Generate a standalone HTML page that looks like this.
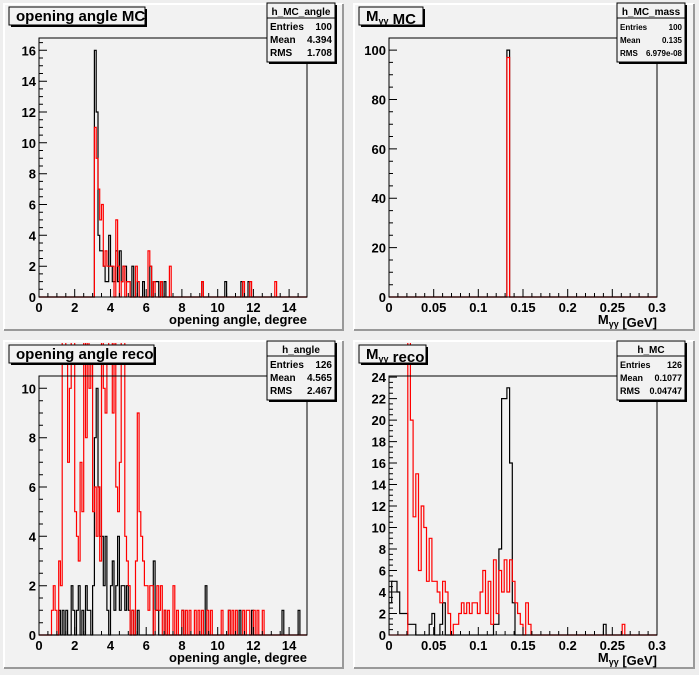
<!DOCTYPE html>
<html><head><meta charset="utf-8">
<style>
body{margin:0;background:#f0f0f0;}
svg{display:block;font-family:"Liberation Sans",sans-serif;}
</style></head>
<body>
<svg id="s" width="699" height="675" xmlns="http://www.w3.org/2000/svg">
<rect x="0" y="0" width="699" height="675" fill="#eeeeee"/>
</svg>
<script>
const S=document.getElementById('s');
let out='';
function pad(px,py,w,h){
 out+=`<rect x="${px}" y="${py}" width="${w}" height="${h}" fill="#f2f2f2"/>`;
 out+=`<path d="M${px} ${py+h}V${py}H${px+w}" stroke="#ffffff" stroke-width="2" fill="none"/>`;
 out+=`<path d="M${px} ${py+h}H${px+w}V${py}" stroke="#999" stroke-width="2" fill="none"/>`;
}
function hist(id,fx0,fy0,fx1,fy1,xmin,xmax,ymax,data,bw,color,clipTop){
 const X=v=>fx0+(v-xmin)/(xmax-xmin)*(fx1-fx0);
 const Y=v=>fy1-v/ymax*(fy1-fy0);
 let m={};data.forEach(([x,c])=>{m[Math.round(x/bw)]=c;});
 let n=Math.round((xmax-xmin)/bw);
 let d=`M${X(xmin)} ${Y(0)}`;
 for(let i=0;i<n;i++){let c=m[i]||0;d+=`V${Y(c).toFixed(1)}H${X((i+1)*bw).toFixed(1)}`;}
 d+=`V${Y(0)}`;
 out+=`<clipPath id="${id}"><rect x="${fx0}" y="${clipTop}" width="${fx1-fx0+1}" height="${fy1-clipTop+1}"/></clipPath>`;
 out+=`<path d="${d}" stroke="${color}" stroke-width="1.2" fill="none" clip-path="url(#${id})"/>`;
}
function axes(fx0,fy0,fx1,fy1,xmin,xmax,xlab,xstep,xminor,ymax,ylab,ystep,yminor,xtitle){
 out+=`<rect x="${fx0}" y="${fy0}" width="${fx1-fx0}" height="${fy1-fy0}" fill="none" stroke="#000" stroke-width="1"/>`;
 const X=v=>fx0+(v-xmin)/(xmax-xmin)*(fx1-fx0);
 const Y=v=>fy1-v/ymax*(fy1-fy0);
 let t='';
 for(let v=xmin;v<=xmax+1e-9;v+=xminor){let big=Math.abs(v/xstep-Math.round(v/xstep))<1e-6;t+=`M${X(v).toFixed(1)} ${fy1}v${big?-8:-4}`;}
 for(let v=0;v<=ymax+1e-9;v+=yminor){let big=Math.abs(v/ystep-Math.round(v/ystep))<1e-6;t+=`M${fx0} ${Y(v).toFixed(1)}h${big?8:4}`;}
 out+=`<path d="${t}" stroke="#000" stroke-width="1" fill="none"/>`;
 xlab.forEach(([v,s])=>{out+=`<text x="${X(v)}" y="${fy1+15}" font-size="13" font-weight="bold" text-anchor="middle">${s}</text>`;});
 ylab.forEach(([v,s])=>{out+=`<text x="${fx0-3}" y="${Y(v)+5}" font-size="13" font-weight="bold" text-anchor="end">${s}</text>`;});
 out+=`<text x="${fx1}" y="${fy1+27}" font-size="13" font-weight="bold" text-anchor="end">${xtitle}</text>`;
}
function title(x,y,w,h,txt){
 out+=`<rect x="${x+2}" y="${y+2}" width="${w}" height="${h}" fill="#000"/><rect x="${x}" y="${y}" width="${w}" height="${h}" fill="#f2f2f2" stroke="#000"/>`;
 out+=`<text x="${x+7}" y="${y+h-4}" font-size="15" font-weight="bold">${txt}</text>`;
}
function stats(x,y,name,rows,fs){
 const w=68,h=59;
 out+=`<rect x="${x+2}" y="${y+2}" width="${w}" height="${h}" fill="#000"/><rect x="${x}" y="${y}" width="${w}" height="${h}" fill="#f2f2f2" stroke="#000"/>`;
 out+=`<line x1="${x}" y1="${y+15}" x2="${x+w}" y2="${y+15}" stroke="#000"/>`;
 out+=`<text x="${x+w/2}" y="${y+12}" font-size="10" font-weight="bold" text-anchor="middle">${name}</text>`;
 rows.forEach(([a,b],i)=>{let yy=y+27+i*13;out+=`<text x="${x+3}" y="${yy}" font-size="${fs}" font-weight="bold">${a}</text><text x="${x+w-3}" y="${yy}" font-size="${fs}" font-weight="bold" text-anchor="end">${b}</text>`;});
}
const mgg='M<tspan font-size="9" dy="3">γγ</tspan><tspan dy="-3"></tspan>';
pad(4,4,339,326);pad(354,4,340,326);pad(4,341,339,327);pad(354,341,340,327);
const p1b=[[3.1,16],[3.2,12],[3.3,4],[3.4,3],[3.5,3],[3.6,2],[3.7,1],[3.8,1],[3.9,4],[4.0,2],[4.1,1],[4.2,1],[4.3,3],[4.4,1],[4.5,3],[4.6,1],[4.7,2],[4.8,2],[4.9,1],[5.0,1],[5.2,2],[5.5,1],[5.8,1],[6.2,2],[6.4,1],[6.5,1],[6.6,1],[6.8,1],[7.0,1],[9.1,1],[10.4,1],[11.3,1],[11.7,1]];
const p1r=[[3.1,11],[3.2,9],[3.3,7],[3.4,5],[3.5,6],[3.6,2],[3.7,3],[3.8,2],[3.9,2],[4.0,2],[4.1,2],[4.3,5],[4.4,2],[4.6,1],[4.7,2],[4.9,1],[5.0,1],[5.4,2],[5.5,1],[6.1,3],[6.2,2],[6.4,1],[6.8,1],[7.3,2],[9.1,1],[11.4,1],[11.8,1],[13.2,1]];
hist('c1',39,38,307,297,0,15,16.8,p1b,0.1,'#000',38);
hist('c2',39,38,307,297,0,15,16.8,p1r,0.1,'#f00',38);
axes(39,38,307,297,0,15,[[0,'0'],[2,'2'],[4,'4'],[6,'6'],[8,'8'],[10,'10'],[12,'12'],[14,'14']],2,0.5,16.8,[[0,'0'],[2,'2'],[4,'4'],[6,'6'],[8,'8'],[10,'10'],[12,'12'],[14,'14'],[16,'16']],2,0.5,'opening angle, degree');
title(9,7,136,18,'opening angle MC');
stats(267,3,'h_MC_angle',[['Entries','100'],['Mean','4.394'],['RMS','1.708']],10);
hist('c3',389,38,657,297,0,0.3,104.9,[[0.132,100]],0.003,'#000',38);
hist('c4',389,38,657,297,0,0.3,104.9,[[0.132,97]],0.003,'#f00',38);
axes(389,38,657,297,0,0.3,[[0,'0'],[0.05,'0.05'],[0.1,'0.1'],[0.15,'0.15'],[0.2,'0.2'],[0.25,'0.25'],[0.3,'0.3']],0.05,0.01,104.9,[[0,'0'],[20,'20'],[40,'40'],[60,'60'],[80,'80'],[100,'100']],20,5,mgg+' [GeV]');
title(359,7,64,18,mgg+' MC');
stats(617,3,'h_MC_mass',[['Entries','100'],['Mean','0.135'],['RMS','6.979e-08']],8);
const p3b=[[1.1,1],[1.3,1],[1.5,1],[1.8,2],[1.9,1],[2.1,1],[2.2,2],[2.4,1],[2.6,2],[2.7,1],[2.8,1],[3.0,2],[3.1,8],[3.2,10],[3.3,6],[3.4,4],[3.5,4],[3.6,2],[3.7,4],[3.8,1],[4.0,2],[4.1,3],[4.2,1],[4.3,2],[4.4,4],[4.5,1],[4.6,2],[4.7,2],[4.8,1],[4.9,2],[5.0,1],[5.2,1],[5.5,1],[6.4,3],[6.5,1],[6.6,1],[7.0,1],[8.0,1],[9.3,2],[10.6,1],[11.2,1],[11.9,1],[13.6,1],[14.5,1]];
const p3r=[[0.7,1],[0.8,2],[0.9,1],[1.1,3],[1.2,2],[1.3,12],[1.4,14],[1.5,11],[1.6,7],[1.7,10],[1.8,12],[1.9,14],[2.0,5],[2.1,4],[2.2,3],[2.3,7],[2.4,5],[2.5,12],[2.6,8],[2.7,13],[2.8,10],[2.9,11],[3.0,5],[3.1,6],[3.2,4],[3.3,6],[3.4,3],[3.5,12],[3.6,10],[3.7,9],[3.8,11],[3.9,14],[4.0,12],[4.1,9],[4.2,13],[4.3,6],[4.4,5],[4.5,7],[4.6,12],[4.7,14],[4.8,4],[4.9,3],[5.0,2],[5.2,1],[5.4,3],[5.5,9],[5.6,5],[5.7,4],[5.8,3],[5.9,2],[6.0,2],[6.1,1],[6.2,2],[6.3,2],[6.5,1],[6.6,2],[6.7,1],[6.8,2],[7.0,1],[7.2,1],[7.5,2],[7.7,1],[8.0,1],[8.2,1],[8.4,1],[8.7,1],[8.9,1],[9.1,1],[9.4,1],[9.6,1],[10.2,1],[10.6,1],[10.8,1],[11.0,1],[11.4,1],[11.6,1],[11.7,1],[12.0,1],[12.2,1],[12.5,1]];
hist('c5',39,376,307,635,0,15,10.5,p3b,0.1,'#000',343);
hist('c6',39,376,307,635,0,15,10.5,p3r,0.1,'#f00',343);
axes(39,376,307,635,0,15,[[0,'0'],[2,'2'],[4,'4'],[6,'6'],[8,'8'],[10,'10'],[12,'12'],[14,'14']],2,0.5,10.5,[[0,'0'],[2,'2'],[4,'4'],[6,'6'],[8,'8'],[10,'10']],2,0.5,'opening angle, degree');
title(9,345,145,18,'opening angle reco');
stats(267,341,'h_angle',[['Entries','126'],['Mean','4.565'],['RMS','2.467']],10);
const p4b=[[0.0,3],[0.003,5],[0.006,5],[0.009,4],[0.012,2],[0.015,2],[0.018,2],[0.021,1],[0.024,1],[0.027,1],[0.045,1],[0.048,2],[0.057,1],[0.060,3],[0.117,1],[0.120,1],[0.123,8],[0.126,22],[0.129,22],[0.132,23],[0.135,16],[0.138,3],[0.240,1]];
const p4r=[[0.021,30],[0.024,20],[0.027,11],[0.030,15],[0.033,6],[0.036,12],[0.039,10],[0.042,5],[0.045,9],[0.048,5],[0.051,5],[0.054,4],[0.057,3],[0.060,5],[0.063,4],[0.066,2],[0.072,1],[0.075,1],[0.078,2],[0.081,3],[0.084,2],[0.087,3],[0.090,2],[0.093,3],[0.096,3],[0.099,2],[0.102,4],[0.105,6],[0.108,2],[0.111,5],[0.114,1],[0.117,7],[0.120,2],[0.123,6],[0.126,4],[0.129,7],[0.132,4],[0.135,7],[0.138,5],[0.141,3],[0.144,2],[0.147,1],[0.153,3],[0.156,1],[0.261,1]];
hist('c7',389,376,657,635,0,0.3,24.1,p4b,0.003,'#000',343);
hist('c8',389,376,657,635,0,0.3,24.1,p4r,0.003,'#f00',343);
axes(389,376,657,635,0,0.3,[[0,'0'],[0.05,'0.05'],[0.1,'0.1'],[0.15,'0.15'],[0.2,'0.2'],[0.25,'0.25'],[0.3,'0.3']],0.05,0.01,24.1,[[0,'0'],[2,'2'],[4,'4'],[6,'6'],[8,'8'],[10,'10'],[12,'12'],[14,'14'],[16,'16'],[18,'18'],[20,'20'],[22,'22'],[24,'24']],2,0.5,mgg+' [GeV]');
title(359,345,67,18,mgg+' reco');
stats(617,341,'h_MC',[['Entries','126'],['Mean','0.1077'],['RMS','0.04747']],9);
S.innerHTML+=out;
</script>
</body></html>
